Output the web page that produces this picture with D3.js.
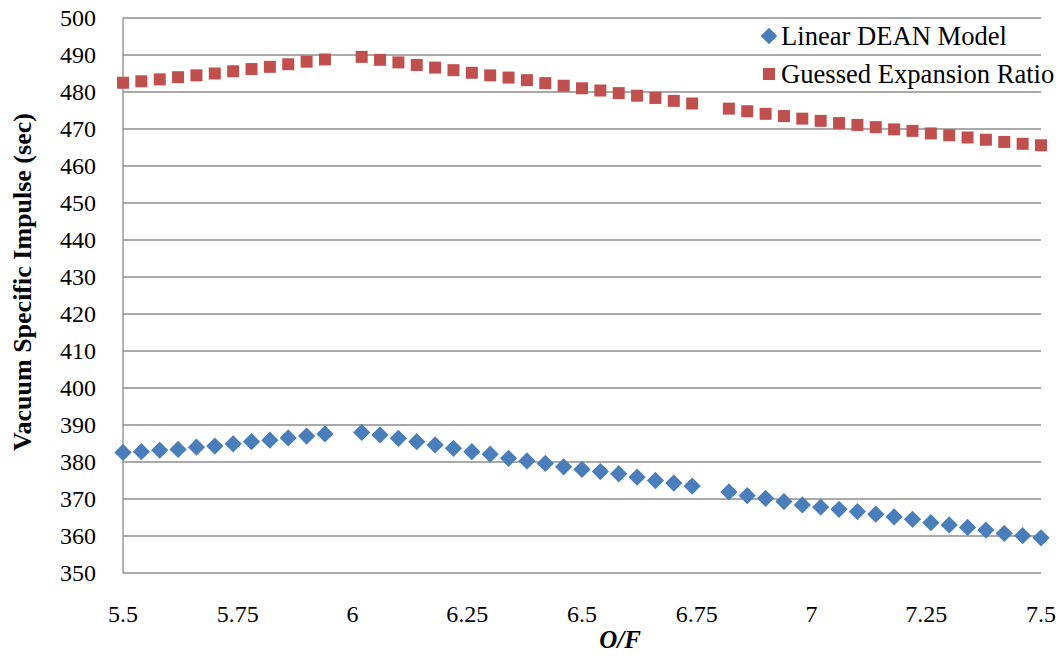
<!DOCTYPE html>
<html>
<head>
<meta charset="utf-8">
<script src="https://cdn.jsdelivr.net/npm/d3@7"></script>
<style>
  body { margin: 0; background: #fff; }
  svg { display: block; }
  text { font-family: "Liberation Serif", "Times New Roman", serif; fill: #000; }
</style>
</head>
<body>
<svg id="chart" width="1062" height="656"></svg>
<script>
const ofValues = [5.5,5.54,5.58,5.62,5.66,5.70,5.74,5.78,5.82,5.86,5.90,5.94,
  6.02,6.06,6.10,6.14,6.18,6.22,6.26,6.30,6.34,6.38,6.42,6.46,6.50,6.54,6.58,6.62,6.66,6.70,6.74,
  6.82,6.86,6.90,6.94,6.98,7.02,7.06,7.10,7.14,7.18,7.22,7.26,7.30,7.34,7.38,7.42,7.46,7.50];
const linearDean = [382.6,382.8,383.2,383.4,384.0,384.3,384.9,385.5,385.9,386.5,387.0,387.6,
  388.0,387.3,386.4,385.5,384.6,383.7,382.8,382.1,381.0,380.3,379.6,378.7,378.0,377.4,376.8,375.9,375.0,374.3,373.5,
  371.9,370.9,370.2,369.3,368.4,367.8,367.2,366.6,365.9,365.2,364.5,363.6,363.0,362.3,361.6,360.7,360.1,359.5];
const guessedExp = [482.5,482.9,483.4,484.0,484.5,485.0,485.6,486.2,486.8,487.5,488.2,488.8,
  489.5,488.7,488.0,487.3,486.6,485.9,485.2,484.5,483.9,483.2,482.4,481.7,481.0,480.4,479.7,479.0,478.4,477.6,476.9,
  475.5,474.8,474.1,473.5,472.8,472.2,471.6,471.1,470.5,469.9,469.5,468.8,468.3,467.7,467.1,466.5,466.0,465.6];
const xTicks = [5.5,5.75,6,6.25,6.5,6.75,7,7.25,7.5];
const xTickLabels = ["5.5","5.75","6","6.25","6.5","6.75","7","7.25","7.5"];
const yTicks = [350,360,370,380,390,400,410,420,430,440,450,460,470,480,490,500];
const seriesNames = ["Linear DEAN Model","Guessed Expansion Ratio"];
const seriesColors = ["#4a7ebb","#c0504d"];

const FONT = "'Liberation Serif', 'Times New Roman', serif";
const svg = d3.select("#chart");
const x = d3.scaleLinear().domain([5.5,7.5]).range([123,1041]);
const y = d3.scaleLinear().domain([350,500]).range([573,18]);

// gridlines
svg.append("g").selectAll("line").data(yTicks).join("line")
  .attr("x1", x(5.5)).attr("x2", x(7.5))
  .attr("y1", d => y(d)).attr("y2", d => y(d))
  .attr("stroke", "#8c8c8c").attr("stroke-width", 1.3);

// left axis line
svg.append("line").attr("x1", x(5.5)).attr("x2", x(5.5))
  .attr("y1", y(500)).attr("y2", y(350))
  .attr("stroke", "#8c8c8c").attr("stroke-width", 1.3);

// y tick labels
svg.append("g").selectAll("text").data(yTicks).join("text")
  .attr("x", 96).attr("y", d => y(d)).attr("dy", "0.34em")
  .attr("text-anchor", "end").attr("font-size", 24).attr("font-family", FONT)
  .text(d => d);

// x tick labels
svg.append("g").selectAll("text").data(xTicks).join("text")
  .attr("x", d => x(d)).attr("y", 622)
  .attr("text-anchor", "middle").attr("font-size", 24).attr("font-family", FONT)
  .text((d,i) => xTickLabels[i]);

// axis titles
svg.append("text").attr("x", 620).attr("y", 648)
  .attr("text-anchor", "middle").attr("font-size", 25).attr("font-family", FONT)
  .attr("font-weight", "bold").attr("font-style", "italic").text("O/F");
svg.append("text").attr("transform", "translate(31,282) rotate(-90)")
  .attr("text-anchor", "middle").attr("font-size", 26).attr("font-family", FONT)
  .attr("font-weight", "bold").text("Vacuum Specific Impulse (sec)");

const diamond = d3.symbol().type(d3.symbolDiamond2).size(190);

// blue diamonds
svg.append("g").selectAll("path").data(ofValues).join("path")
  .attr("d", diamond)
  .attr("transform", (d,i) => `translate(${x(d)},${y(linearDean[i])})`)
  .attr("fill", seriesColors[0]);

// red squares
const sq = 12;
svg.append("g").selectAll("rect").data(ofValues).join("rect")
  .attr("x", d => x(d) - sq/2).attr("y", (d,i) => y(guessedExp[i]) - sq/2)
  .attr("width", sq).attr("height", sq)
  .attr("fill", seriesColors[1]);

// legend
const lg = svg.append("g");
lg.append("path").attr("d", d3.symbol().type(d3.symbolDiamond2).size(175))
  .attr("transform", "translate(769,36)").attr("fill", seriesColors[0]);
lg.append("rect").attr("x", 769 - 6).attr("y", 74 - 6).attr("width", 12).attr("height", 12)
  .attr("fill", seriesColors[1]);
lg.append("text").attr("x", 781).attr("y", 45).attr("font-size", 26.6).attr("font-family", FONT).text(seriesNames[0]);
lg.append("text").attr("x", 781).attr("y", 83).attr("font-size", 26.6).attr("font-family", FONT).text(seriesNames[1]);
</script>
</body>
</html>
